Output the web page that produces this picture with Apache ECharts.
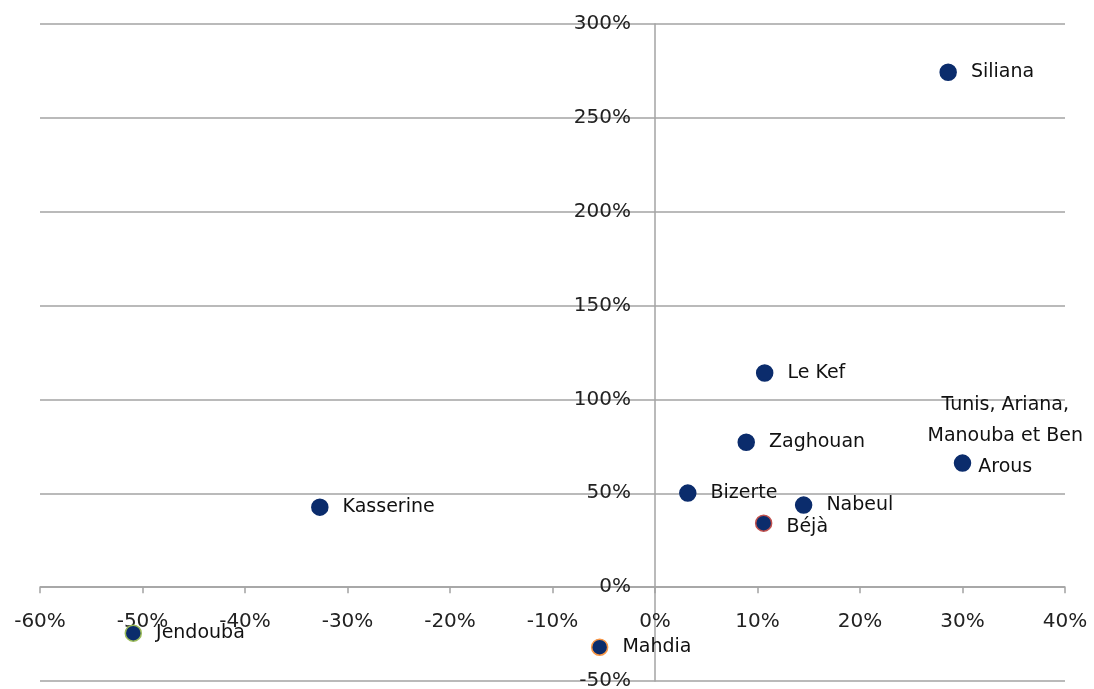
<!DOCTYPE html>
<html>
<head>
<meta charset="utf-8">
<script src="https://cdn.jsdelivr.net/npm/echarts@6/dist/echarts.min.js"></script>
<style>
  html, body { margin: 0; padding: 0; background: #fff; }
  #chart { width: 1094px; height: 689px; }
</style>
</head>
<body>
<div id="chart"></div>
<script>
// regions, x and y in percent
const regions = ['Siliana', 'Le Kef', 'Zaghouan', 'Tunis, Ariana,\nManouba et Ben\nArous', 'Bizerte',
  'Nabeul', 'Béjà', 'Kasserine', 'Jendouba', 'Mahdia'];
const xValues = [28.6, 10.7, 8.9, 30.0, 3.2, 14.5, 10.6, -32.7, -50.9, -5.4];
const yValues = [274.3, 114.1, 77.2, 66.1, 50.1, 43.7, 34.1, 42.6, -24.5, -32.0];
const borderColors = ['#0b2c6c', '#0b2c6c', '#0b2c6c', '#0b2c6c', '#0b2c6c',
  '#0b2c6c', '#c0504d', '#0b2c6c', '#9bbb59', '#f79646'];

const xMin = -60, xMax = 40, yMin = -50, yMax = 300;
const font = 'DejaVu Sans';
const gridColor = '#a3a3a3';

const W = 1094, H = 689;
const grid = { left: 40, right: 29, top: 24, bottom: 8 };
// v6 keeps labels at the grid edge with onZero, so shift both axes to zero by hand
const plotW = W - grid.left - grid.right;
const plotH = H - grid.top - grid.bottom;
const xAxisOffset = -plotH * (0 - yMin) / (yMax - yMin);
const yAxisOffset = -plotW * (0 - xMin) / (xMax - xMin);

const points = regions.map((name, i) => {
  const item = {
    name: name,
    value: [xValues[i], yValues[i]],
    itemStyle: { borderColor: borderColors[i] }
  };
  // the long Tunis label sits centred above its point
  if (name.indexOf('Tunis') === 0) {
    item.label = {
      align: 'center',
      distance: 34,
      lineHeight: 31,
      offset: [0, -27]
    };
  }
  if (name === 'Béjà') {
    item.label = { offset: [0, 4] };
  }
  return item;
});

const chart = echarts.init(document.getElementById('chart'));
chart.setOption({
  animation: false,
  backgroundColor: '#fff',
  grid: Object.assign({ containLabel: false, outerBoundsMode: 'none' }, grid),
  xAxis: {
    type: 'value',
    min: xMin,
    max: xMax,
    interval: 10,
    position: 'bottom',
    offset: xAxisOffset,
    axisLine: { onZero: false, lineStyle: { color: gridColor, width: 1.5 } },
    axisTick: { show: true, length: 6, lineStyle: { color: gridColor, width: 1.5 } },
    axisLabel: {
      formatter: '{value}%',
      margin: 25,
      color: '#222',
      fontSize: 20,
      fontFamily: font
    },
    splitLine: { show: false }
  },
  yAxis: {
    type: 'value',
    min: yMin,
    max: yMax,
    interval: 50,
    position: 'left',
    offset: yAxisOffset,
    axisLine: { onZero: false, lineStyle: { color: gridColor, width: 1.5 } },
    axisTick: { show: false },
    axisLabel: {
      formatter: '{value}%',
      margin: 24,
      color: '#222',
      fontSize: 20,
      fontFamily: font
    },
    splitLine: { show: true, lineStyle: { color: gridColor, width: 1.5 } }
  },
  series: [
    {
      type: 'scatter',
      symbol: 'circle',
      symbolSize: 16,
      itemStyle: { color: '#0b2c6c', borderWidth: 1.5, opacity: 1 },
      label: {
        show: true,
        position: 'right',
        distance: 14,
        formatter: '{b}',
        color: '#111',
        fontSize: 19,
        fontFamily: font
      },
      data: points
    }
  ]
});
</script>
</body>
</html>
